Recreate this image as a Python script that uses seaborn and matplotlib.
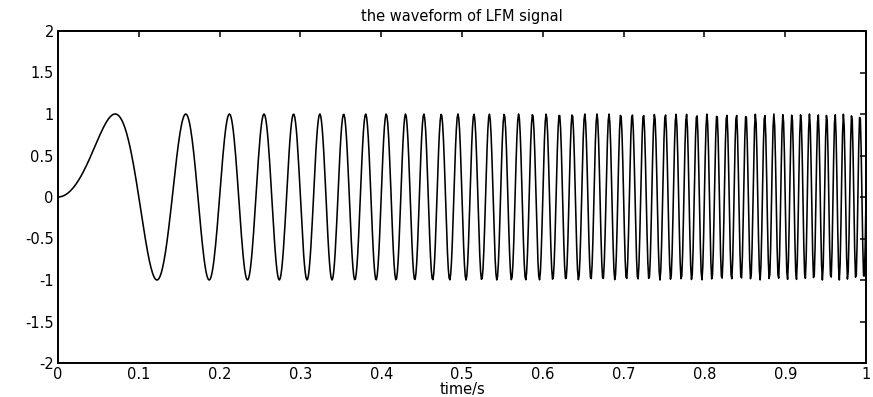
import numpy as np
import pandas as pd
import matplotlib
matplotlib.use("Agg")
import matplotlib.pyplot as plt
import seaborn as sns

# LFM chirp parameters (first peak at t~0.07 s, ~100 Hz at t=1 s)
duration = 1.0          # s
bandwidth = 100.0       # Hz swept over the duration
sample_rate = 1000.0    # Hz

x_ticks = [0, 0.1, 0.2, 0.3, 0.4, 0.5, 0.6, 0.7, 0.8, 0.9, 1]
x_tick_labels = ["0", "0.1", "0.2", "0.3", "0.4", "0.5", "0.6", "0.7", "0.8", "0.9", "1"]
y_ticks = [-2, -1.5, -1, -0.5, 0, 0.5, 1, 1.5, 2]
y_tick_labels = ["-2", "-1.5", "-1", "-0.5", "0", "0.5", "1", "1.5", "2"]

chirp_rate = bandwidth / duration
t = np.arange(0, duration + 1e-9, 1 / sample_rate)
signal = np.sin(np.pi * chirp_rate * t ** 2)
df = pd.DataFrame({"time": t, "amplitude": signal})

sns.set_style("white")
plt.rcParams["font.family"] = ["DejaVu Sans"]

fig = plt.figure(figsize=(8.73, 3.97), dpi=100)
ax = fig.add_axes([58 / 873, 34 / 397, 808 / 873, 332 / 397])

sns.lineplot(data=df, x="time", y="amplitude", ax=ax, color="black",
             linewidth=1.15, estimator=None, sort=False)

ax.set_xlim(0, 1)
ax.set_ylim(-2, 2)
ax.set_xticks(x_ticks)
ax.set_xticklabels(x_tick_labels)
ax.set_yticks(y_ticks)
ax.set_yticklabels(y_tick_labels)
ax.tick_params(direction="in", length=4, width=1.1, colors="black",
               labelsize=10.5, top=True, right=True, pad=3)
for s in ax.spines.values():
    s.set_visible(True)
    s.set_color("black")
    s.set_linewidth(1.4)

ax.set_title("the waveform of LFM signal", fontsize=10.5, pad=7, color="black")
ax.set_xlabel("time/s", fontsize=10.5, labelpad=0, color="black")
ax.set_ylabel("")
ax.grid(False)

fig.savefig("out.png", dpi=100, facecolor="white")
